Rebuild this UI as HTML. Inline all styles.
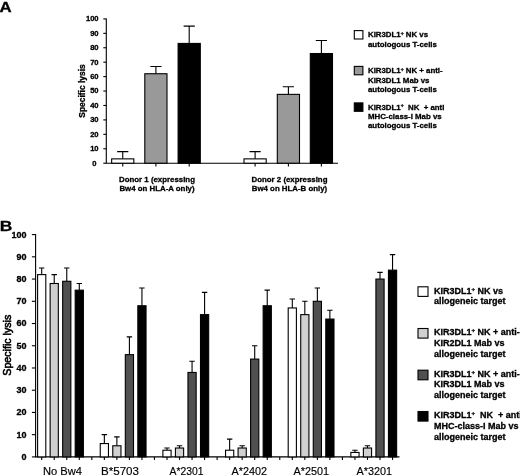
<!DOCTYPE html><html><head><meta charset="utf-8"><title>Figure</title>
<style>html,body{margin:0;padding:0;background:#fff}svg{display:block;filter:blur(.35px)}text{font-family:"Liberation Sans",Arial,Helvetica,sans-serif;fill:#000}.b{font-weight:bold;stroke:#000;stroke-width:.3px}</style></head><body>
<svg width="520" height="476" viewBox="0 0 520 476">
<rect width="520" height="476" fill="#fff"/>
<text class="b" transform="translate(-0.4 12.3) scale(1.2 1)" font-size="14">A</text>
<g stroke="#000" stroke-width="1.1" fill="none">
<path d="M106.3 18.399999999999977V163.2H338"/>
<path d="M103.3 163.20H106.3"/>
<path d="M103.3 148.77H106.3"/>
<path d="M103.3 134.34H106.3"/>
<path d="M103.3 119.91H106.3"/>
<path d="M103.3 105.48H106.3"/>
<path d="M103.3 91.05H106.3"/>
<path d="M103.3 76.62H106.3"/>
<path d="M103.3 62.19H106.3"/>
<path d="M103.3 47.76H106.3"/>
<path d="M103.3 33.33H106.3"/>
<path d="M103.3 18.90H106.3"/>
</g>
<text class="b" x="96.4" y="165.60" font-size="7.6" text-anchor="end">0</text>
<text class="b" x="98.6" y="151.17" font-size="7.6" text-anchor="end">10</text>
<text class="b" x="98.6" y="136.74" font-size="7.6" text-anchor="end">20</text>
<text class="b" x="98.6" y="122.31" font-size="7.6" text-anchor="end">30</text>
<text class="b" x="98.6" y="107.88" font-size="7.6" text-anchor="end">40</text>
<text class="b" x="98.6" y="93.45" font-size="7.6" text-anchor="end">50</text>
<text class="b" x="98.6" y="79.02" font-size="7.6" text-anchor="end">60</text>
<text class="b" x="98.6" y="64.59" font-size="7.6" text-anchor="end">70</text>
<text class="b" x="98.6" y="50.16" font-size="7.6" text-anchor="end">80</text>
<text class="b" x="98.6" y="35.73" font-size="7.6" text-anchor="end">90</text>
<text class="b" x="98.6" y="21.30" font-size="7.6" text-anchor="end">100</text>
<text class="b" font-size="8.4" text-anchor="middle" transform="translate(85.4 91) rotate(-90)" textLength="53.5" lengthAdjust="spacingAndGlyphs">Specific lysis</text>
<g stroke="#000" stroke-width="1.1">
<path d="M122.75 158.87V151.66M117.15 151.66H128.35" fill="none"/>
<rect x="111.65" y="158.87" width="22.20" height="4.33" fill="#fff"/>
<path d="M122.75 163.2v3.2" fill="none"/>
</g>
<g stroke="#000" stroke-width="1.1">
<path d="M155.9 73.73V66.52M150.3 66.52H161.5" fill="none"/>
<rect x="144.80" y="73.73" width="22.20" height="89.47" fill="#999"/>
<path d="M155.9 163.2v3.2" fill="none"/>
</g>
<g stroke="#000" stroke-width="1.1">
<path d="M189.2 43.43V26.11M183.6 26.11H194.79999999999998" fill="none"/>
<rect x="178.10" y="43.43" width="22.20" height="119.77" fill="#000"/>
<path d="M189.2 163.2v3.2" fill="none"/>
</g>
<g stroke="#000" stroke-width="1.1">
<path d="M255.1 158.87V151.66M249.5 151.66H260.7" fill="none"/>
<rect x="244.00" y="158.87" width="22.20" height="4.33" fill="#fff"/>
<path d="M255.1 163.2v3.2" fill="none"/>
</g>
<g stroke="#000" stroke-width="1.1">
<path d="M288.4 94.37V86.72M282.79999999999995 86.72H294.0" fill="none"/>
<rect x="277.30" y="94.37" width="22.20" height="68.83" fill="#999"/>
<path d="M288.4 163.2v3.2" fill="none"/>
</g>
<g stroke="#000" stroke-width="1.1">
<path d="M321.4 53.53V40.54M315.79999999999995 40.54H327.0" fill="none"/>
<rect x="310.30" y="53.53" width="22.20" height="109.67" fill="#000"/>
<path d="M321.4 163.2v3.2" fill="none"/>
</g>
<text class="b" font-size="7.85" text-anchor="middle" x="157" y="181.8">Donor 1 (expressing</text>
<text class="b" font-size="7.85" text-anchor="middle" x="157" y="190.7">Bw4 on HLA-A only)</text>
<text class="b" font-size="7.85" text-anchor="middle" x="289.5" y="181.8">Donor 2 (expressing</text>
<text class="b" font-size="7.85" text-anchor="middle" x="289.5" y="190.7">Bw4 on HLA-B only)</text>
<rect x="354.3" y="30.6" width="8.6" height="8.4" fill="#fff" stroke="#000" stroke-width="1.1"/>
<text class="b" font-size="7.85" x="368" y="37.40">KIR3DL1<tspan font-size="5" dy="-2.6">+</tspan><tspan dy="2.6"> NK vs</tspan></text>
<text class="b" font-size="7.85" x="368" y="46.60">autologous T-cells</text>
<rect x="354.3" y="66.4" width="8.6" height="8.4" fill="#999" stroke="#000" stroke-width="1.1"/>
<text class="b" font-size="7.85" x="368" y="73.30">KIR3DL1<tspan font-size="5" dy="-2.6">+</tspan><tspan dy="2.6"> NK + anti-</tspan></text>
<text class="b" font-size="7.85" x="368" y="82.50">KIR3DL1 Mab vs</text>
<text class="b" font-size="7.85" x="368" y="91.70">autologous T-cells</text>
<rect x="354.3" y="102.9" width="8.6" height="8.4" fill="#000" stroke="#000" stroke-width="1.1"/>
<text class="b" font-size="7.85" x="368" y="109.60">KIR3DL1<tspan font-size="5" dy="-2.6">+</tspan><tspan dy="2.6" xml:space="preserve">  NK  + anti</tspan></text>
<text class="b" font-size="7.85" x="368" y="118.80">MHC-class-I Mab vs</text>
<text class="b" font-size="7.85" x="368" y="128.00">autologous T-cells</text>
<text class="b" transform="translate(-0.2 230.6) scale(1.15 1)" font-size="15.2">B</text>
<g stroke="#000" stroke-width="1.1" fill="none">
<path d="M35.6 234.1V456.9H399.5"/>
<path d="M31.9 456.90H35.6"/>
<path d="M31.9 434.67H35.6"/>
<path d="M31.9 412.44H35.6"/>
<path d="M31.9 390.21H35.6"/>
<path d="M31.9 367.98H35.6"/>
<path d="M31.9 345.75H35.6"/>
<path d="M31.9 323.52H35.6"/>
<path d="M31.9 301.29H35.6"/>
<path d="M31.9 279.06H35.6"/>
<path d="M31.9 256.83H35.6"/>
<path d="M31.9 234.60H35.6"/>
</g>
<text class="b" x="26.6" y="459.80" font-size="9" text-anchor="end">0</text>
<text class="b" x="26.6" y="437.57" font-size="9" text-anchor="end">10</text>
<text class="b" x="26.6" y="415.34" font-size="9" text-anchor="end">20</text>
<text class="b" x="26.6" y="393.11" font-size="9" text-anchor="end">30</text>
<text class="b" x="26.6" y="370.88" font-size="9" text-anchor="end">40</text>
<text class="b" x="26.6" y="348.65" font-size="9" text-anchor="end">50</text>
<text class="b" x="26.6" y="326.42" font-size="9" text-anchor="end">60</text>
<text class="b" x="26.6" y="304.19" font-size="9" text-anchor="end">70</text>
<text class="b" x="26.6" y="281.96" font-size="9" text-anchor="end">80</text>
<text class="b" x="26.6" y="259.73" font-size="9" text-anchor="end">90</text>
<text class="b" x="26.6" y="237.50" font-size="9" text-anchor="end">100</text>
<text font-size="10.6" stroke="#000" stroke-width="0.6" text-anchor="middle" transform="translate(10.7 345.2) rotate(-90)" textLength="61" lengthAdjust="spacingAndGlyphs">Specific lysis</text>
<g stroke="#000" stroke-width="1.1">
<path d="M41.70 274.61V267.94M39.00 267.94H44.40" fill="none"/>
<rect x="37.60" y="274.61" width="8.20" height="182.29" fill="#fff"/>
</g>
<g stroke="#000" stroke-width="1.1">
<path d="M54.23 283.51V274.61M51.53 274.61H56.93" fill="none"/>
<rect x="50.13" y="283.51" width="8.20" height="173.39" fill="#d0d0d0"/>
</g>
<g stroke="#000" stroke-width="1.1">
<path d="M66.76 281.28V267.94M64.06 267.94H69.46" fill="none"/>
<rect x="62.66" y="281.28" width="8.20" height="175.62" fill="#505050"/>
</g>
<g stroke="#000" stroke-width="1.1">
<path d="M79.29 290.17V283.51M76.59 283.51H81.99" fill="none"/>
<rect x="75.19" y="290.17" width="8.20" height="166.73" fill="#000"/>
</g>
<g stroke="#000" stroke-width="1.1">
<path d="M104.35 443.56V434.67M101.65 434.67H107.05" fill="none"/>
<rect x="100.25" y="443.56" width="8.20" height="13.34" fill="#fff"/>
</g>
<g stroke="#000" stroke-width="1.1">
<path d="M116.88 445.78V436.89M114.18 436.89H119.58" fill="none"/>
<rect x="112.78" y="445.78" width="8.20" height="11.12" fill="#d0d0d0"/>
</g>
<g stroke="#000" stroke-width="1.1">
<path d="M129.41 354.64V336.86M126.71 336.86H132.11" fill="none"/>
<rect x="125.31" y="354.64" width="8.20" height="102.26" fill="#505050"/>
</g>
<g stroke="#000" stroke-width="1.1">
<path d="M141.94 305.74V287.95M139.24 287.95H144.64" fill="none"/>
<rect x="137.84" y="305.74" width="8.20" height="151.16" fill="#000"/>
</g>
<g stroke="#000" stroke-width="1.1">
<path d="M167.00 450.23V448.01M164.30 448.01H169.70" fill="none"/>
<rect x="162.90" y="450.23" width="8.20" height="6.67" fill="#fff"/>
</g>
<g stroke="#000" stroke-width="1.1">
<path d="M179.53 448.01V445.78M176.83 445.78H182.23" fill="none"/>
<rect x="175.43" y="448.01" width="8.20" height="8.89" fill="#d0d0d0"/>
</g>
<g stroke="#000" stroke-width="1.1">
<path d="M192.06 372.43V361.31M189.36 361.31H194.76" fill="none"/>
<rect x="187.96" y="372.43" width="8.20" height="84.47" fill="#505050"/>
</g>
<g stroke="#000" stroke-width="1.1">
<path d="M204.59 314.63V292.40M201.89 292.40H207.29" fill="none"/>
<rect x="200.49" y="314.63" width="8.20" height="142.27" fill="#000"/>
</g>
<g stroke="#000" stroke-width="1.1">
<path d="M229.65 450.23V439.12M226.95 439.12H232.35" fill="none"/>
<rect x="225.55" y="450.23" width="8.20" height="6.67" fill="#fff"/>
</g>
<g stroke="#000" stroke-width="1.1">
<path d="M242.18 448.01V445.78M239.48 445.78H244.88" fill="none"/>
<rect x="238.08" y="448.01" width="8.20" height="8.89" fill="#d0d0d0"/>
</g>
<g stroke="#000" stroke-width="1.1">
<path d="M254.71 359.09V345.75M252.01 345.75H257.41" fill="none"/>
<rect x="250.61" y="359.09" width="8.20" height="97.81" fill="#505050"/>
</g>
<g stroke="#000" stroke-width="1.1">
<path d="M267.24 305.74V290.17M264.54 290.17H269.94" fill="none"/>
<rect x="263.14" y="305.74" width="8.20" height="151.16" fill="#000"/>
</g>
<g stroke="#000" stroke-width="1.1">
<path d="M292.30 307.96V299.07M289.60 299.07H295.00" fill="none"/>
<rect x="288.20" y="307.96" width="8.20" height="148.94" fill="#fff"/>
</g>
<g stroke="#000" stroke-width="1.1">
<path d="M304.83 314.63V301.29M302.13 301.29H307.53" fill="none"/>
<rect x="300.73" y="314.63" width="8.20" height="142.27" fill="#d0d0d0"/>
</g>
<g stroke="#000" stroke-width="1.1">
<path d="M317.36 301.29V287.95M314.66 287.95H320.06" fill="none"/>
<rect x="313.26" y="301.29" width="8.20" height="155.61" fill="#505050"/>
</g>
<g stroke="#000" stroke-width="1.1">
<path d="M329.89 319.07V310.18M327.19 310.18H332.59" fill="none"/>
<rect x="325.79" y="319.07" width="8.20" height="137.83" fill="#000"/>
</g>
<g stroke="#000" stroke-width="1.1">
<path d="M354.95 452.45V450.23M352.25 450.23H357.65" fill="none"/>
<rect x="350.85" y="452.45" width="8.20" height="4.45" fill="#fff"/>
</g>
<g stroke="#000" stroke-width="1.1">
<path d="M367.48 448.01V445.78M364.78 445.78H370.18" fill="none"/>
<rect x="363.38" y="448.01" width="8.20" height="8.89" fill="#d0d0d0"/>
</g>
<g stroke="#000" stroke-width="1.1">
<path d="M380.01 279.06V272.39M377.31 272.39H382.71" fill="none"/>
<rect x="375.91" y="279.06" width="8.20" height="177.84" fill="#505050"/>
</g>
<g stroke="#000" stroke-width="1.1">
<path d="M392.54 270.17V254.61M389.84 254.61H395.24" fill="none"/>
<rect x="388.44" y="270.17" width="8.20" height="186.73" fill="#000"/>
</g>
<g stroke="#000" stroke-width="1.1" fill="none">
<path d="M41.70 456.9v3"/>
<path d="M54.23 456.9v3"/>
<path d="M66.76 456.9v3"/>
<path d="M79.29 456.9v3"/>
<path d="M91.82 456.9v3"/>
<path d="M104.35 456.9v3"/>
<path d="M116.88 456.9v3"/>
<path d="M129.41 456.9v3"/>
<path d="M141.94 456.9v3"/>
<path d="M154.47 456.9v3"/>
<path d="M167.00 456.9v3"/>
<path d="M179.53 456.9v3"/>
<path d="M192.06 456.9v3"/>
<path d="M204.59 456.9v3"/>
<path d="M217.12 456.9v3"/>
<path d="M229.65 456.9v3"/>
<path d="M242.18 456.9v3"/>
<path d="M254.71 456.9v3"/>
<path d="M267.24 456.9v3"/>
<path d="M279.77 456.9v3"/>
<path d="M292.30 456.9v3"/>
<path d="M304.83 456.9v3"/>
<path d="M317.36 456.9v3"/>
<path d="M329.89 456.9v3"/>
<path d="M342.42 456.9v3"/>
<path d="M354.95 456.9v3"/>
<path d="M367.48 456.9v3"/>
<path d="M380.01 456.9v3"/>
<path d="M392.54 456.9v3"/>
</g>
<text font-size="10.5" stroke="#000" stroke-width="0.15" x="43" y="475" textLength="39" lengthAdjust="spacingAndGlyphs">No Bw4</text>
<text font-size="10.5" stroke="#000" stroke-width="0.15" x="101" y="475" textLength="38" lengthAdjust="spacingAndGlyphs">B*5703</text>
<text font-size="10.5" stroke="#000" stroke-width="0.15" x="169.5" y="475" textLength="34.0" lengthAdjust="spacingAndGlyphs">A*2301</text>
<text font-size="10.5" stroke="#000" stroke-width="0.15" x="231.5" y="475" textLength="35.5" lengthAdjust="spacingAndGlyphs">A*2402</text>
<text font-size="10.5" stroke="#000" stroke-width="0.15" x="293.5" y="475" textLength="35.5" lengthAdjust="spacingAndGlyphs">A*2501</text>
<text font-size="10.5" stroke="#000" stroke-width="0.15" x="356.5" y="475" textLength="35.5" lengthAdjust="spacingAndGlyphs">A*3201</text>
<rect x="418" y="286.8" width="10" height="9.6" fill="#fff" stroke="#000" stroke-width="1.1"/>
<text class="b" font-size="9" x="434" y="293.90">KIR3DL1<tspan font-size="6" dy="-3">+</tspan><tspan dy="3"> NK vs</tspan></text>
<text class="b" font-size="9" x="434" y="304.20">allogeneic target</text>
<rect x="418" y="328.5" width="10" height="9.6" fill="#d0d0d0" stroke="#000" stroke-width="1.1"/>
<text class="b" font-size="9" x="434" y="335.00">KIR3DL1<tspan font-size="6" dy="-3">+</tspan><tspan dy="3"> NK + anti-</tspan></text>
<text class="b" font-size="9" x="434" y="345.75">KIR2DL1 Mab vs</text>
<text class="b" font-size="9" x="434" y="356.50">allogeneic target</text>
<rect x="418" y="370.2" width="10" height="9.6" fill="#505050" stroke="#000" stroke-width="1.1"/>
<text class="b" font-size="9" x="434" y="376.60">KIR3DL1<tspan font-size="6" dy="-3">+</tspan><tspan dy="3"> NK + anti-</tspan></text>
<text class="b" font-size="9" x="434" y="387.35">KIR3DL1 Mab vs</text>
<text class="b" font-size="9" x="434" y="398.10">allogeneic target</text>
<rect x="418" y="411.5" width="10" height="9.6" fill="#000" stroke="#000" stroke-width="1.1"/>
<text class="b" font-size="9" x="434" y="418.30">KIR3DL1<tspan font-size="6" dy="-3">+</tspan><tspan dy="3" xml:space="preserve">  NK  + anti</tspan></text>
<text class="b" font-size="9" x="434" y="429.05">MHC-class-I Mab vs</text>
<text class="b" font-size="9" x="434" y="439.80">allogeneic target</text>
</svg></body></html>
